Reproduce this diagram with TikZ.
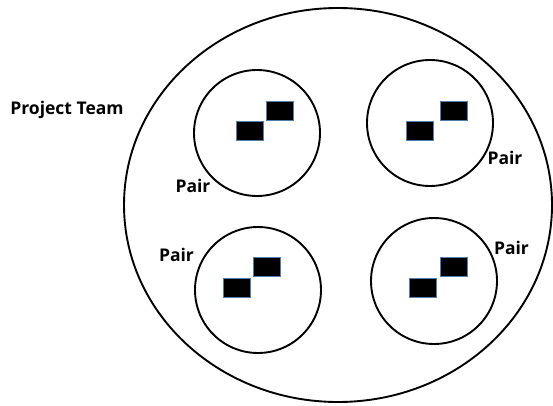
\documentclass[tikz,border=0pt]{standalone}
\usepackage{fontspec}
\setmainfont{Open Sans}
\usetikzlibrary{shapes.geometric}
\definecolor{edgeblue}{HTML}{4F7FAE}
\begin{document}
\begin{tikzpicture}[x=1pt,y=-1pt,
  ring/.style={draw=black,line width=1.9pt,inner sep=0pt},
  member/.style={draw=edgeblue,fill=black,line width=0.9pt,minimum width=27pt,minimum height=19pt,inner sep=0pt},
  lbl/.style={font=\bfseries\fontsize{17.5}{20}\selectfont,inner sep=0pt}]
  \useasboundingbox (0,0) rectangle (553,406);
  % team boundary
  \node[ring,ellipse,minimum width=428pt,minimum height=394pt] (team) at (338,205) {};
  % pairs
  \node[ring,circle,minimum size=126pt] (p1) at (257,133) {};
  \node[ring,circle,minimum size=126pt] (p2) at (430,123) {};
  \node[ring,circle,minimum size=126pt] (p3) at (258,290) {};
  \node[ring,circle,minimum size=126pt] (p4) at (434,281) {};
  % members of each pair
  \node[member] (m1a) at (249.5,130.5) {};
  \node[member] (m1b) at (280,110.5) {};
  \node[member] (m2a) at (419.5,130.5) {};
  \node[member] (m2b) at (454,110.5) {};
  \node[member] (m3a) at (236.5,288) {};
  \node[member] (m3b) at (267,266.5) {};
  \node[member] (m4a) at (422.5,288) {};
  \node[member] (m4b) at (454,266.5) {};
  % labels
  \node[lbl] (tl) at (67,110) {Project Team};
  \node[lbl] (l1) at (193,186) {Pair};
  \node[lbl] (l2) at (505,158) {Pair};
  \node[lbl] (l3) at (176.5,255) {Pair};
  \node[lbl] (l4) at (511.5,248) {Pair};
\end{tikzpicture}
\end{document}
